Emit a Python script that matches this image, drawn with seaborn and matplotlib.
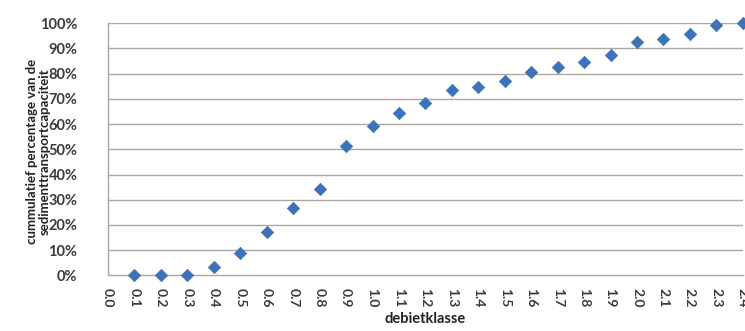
import matplotlib
matplotlib.use("Agg")
import matplotlib.pyplot as plt
import matplotlib.ticker as mticker
import numpy as np
import pandas as pd
import seaborn as sns

# discharge classes and cumulative share of sediment transport capacity (%)
klasse = [0.1, 0.2, 0.3, 0.4, 0.5, 0.6, 0.7, 0.8, 0.9, 1.0, 1.1, 1.2,
          1.3, 1.4, 1.5, 1.6, 1.7, 1.8, 1.9, 2.0, 2.1, 2.2, 2.3, 2.4]
cumulatief = [0.0, 0.0, 0.0, 3.2, 8.7, 17.1, 26.6, 34.2, 51.3, 59.4, 64.3, 68.3,
              73.5, 74.8, 77.2, 80.5, 82.8, 84.5, 87.4, 92.4, 93.8, 95.8, 99.1, 100.0]
x_ticks = [round(0.1 * i, 1) for i in range(25)]
y_ticks = list(range(0, 101, 10))

df = pd.DataFrame({"debietklasse": klasse, "cumulatief": cumulatief})

sns.set_theme(style="white")
plt.rcParams["font.family"] = ["Lato", "DejaVu Sans"]

fig = plt.figure(figsize=(7.45, 3.31), dpi=100)
ax = fig.add_axes([0.145, 0.168, 0.852, 0.762])

grid_c = "#aaa6a2"
for y in y_ticks[1:]:
    ax.axhline(y, color=grid_c, lw=1.0, zorder=1)

sns.scatterplot(data=df, x="debietklasse", y="cumulatief", ax=ax,
                marker="D", s=40, color="#3c72b9", edgecolor="#3c72b9",
                linewidth=0.5, zorder=3, clip_on=False, legend=False)

ax.set_xlim(0, 2.4)
ax.set_ylim(0, 100)
ax.set_xticks(x_ticks)
ax.set_xticklabels([f"{v:.1f}" for v in x_ticks], rotation=-90,
                   fontsize=10, fontweight="bold", color="#3a3a3a")
ax.set_yticks(y_ticks)
ax.yaxis.set_major_formatter(mticker.FuncFormatter(lambda v, p: f"{v:.0f}%"))
for lab in ax.get_yticklabels():
    lab.set_fontsize(10.5)
    lab.set_fontweight("bold")
    lab.set_color("#3a3a3a")

ax.tick_params(axis="both", which="major", length=5, width=0.8,
               color=grid_c, direction="out")
ax.tick_params(axis="y", pad=17)
ax.tick_params(axis="x", pad=4)
for side in ("top", "right"):
    ax.spines[side].set_visible(False)
for side in ("left", "bottom"):
    ax.spines[side].set_color(grid_c)
    ax.spines[side].set_linewidth(1.0)

ax.set_xlabel("debietklasse", fontsize=10.5, fontweight="bold", color="#222222",
              labelpad=3)
ax.set_ylabel("cummulatief percentage van de\nsedimenttransportcapaciteit",
              fontsize=9.5, fontweight="bold", color="#222222",
              linespacing=1.05)
ax.yaxis.set_label_coords(-0.090, 0.49)

fig.savefig("out.png", dpi=100, facecolor="white")
